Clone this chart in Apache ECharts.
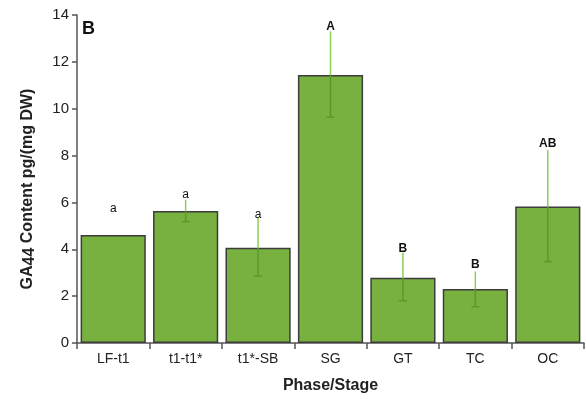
<!DOCTYPE html>
<html><head><meta charset="utf-8">
<script src="https://cdn.jsdelivr.net/npm/echarts@6.0.0/dist/echarts.min.js"></script>
<style>html,body{margin:0;padding:0;background:#fff}#c{width:586px;height:399px}</style>
</head><body><div id="c"></div>
<script>
var categories = ['LF-t1', 't1-t1*', 't1*-SB', 'SG', 'GT', 'TC', 'OC'];
var values = [4.61, 5.63, 4.07, 11.44, 2.79, 2.30, 5.83];
var errHigh = [null, 6.12, 5.38, 13.30, 3.86, 3.05, 8.24];
var errLow = [null, 5.18, 2.86, 9.64, 1.80, 1.55, 3.47];
var letters = ['a', 'a', 'a', 'A', 'B', 'B', 'AB'];
var letterPos = [5.72, 6.32, 5.46, 13.49, 4.01, 3.33, 8.49];
var yTicks = [0, 2, 4, 6, 8, 10, 12, 14];

var FONT = 'Liberation Sans';
var chart = echarts.init(document.getElementById('c'));
var errData = categories.map(function (c, i) { return [i, values[i], errHigh[i], errLow[i]]; });
var letterData = categories.map(function (c, i) { return [i, letterPos[i], letters[i]]; });

chart.setOption({
  animation: false,
  grid: { left: 77, right: 2, top: 15, bottom: 56, containLabel: false },
  xAxis: {
    type: 'category', data: categories,
    name: 'Phase/Stage', nameLocation: 'middle', nameGap: 35,
    nameTextStyle: { fontFamily: FONT, fontSize: 16, fontWeight: 'bold', color: '#222' },
    axisLine: { lineStyle: { color: '#555', width: 1.5 } },
    axisTick: { show: true, alignWithLabel: false, length: 6, lineStyle: { color: '#555', width: 1.5 } },
    axisLabel: { fontFamily: FONT, fontSize: 14, color: '#222', margin: 9 }
  },
  yAxis: {
    type: 'value', min: 0, max: 14, interval: 2,
    axisLine: { show: true, lineStyle: { color: '#555', width: 1.5 } },
    axisTick: { show: true, length: 5, lineStyle: { color: '#555', width: 1.5 } },
    axisLabel: { fontFamily: FONT, fontSize: 15, color: '#222', margin: 8,
      formatter: function (v) { return yTicks.indexOf(v) >= 0 ? String(v) : ''; } },
    splitLine: { show: false }
  },
  graphic: [
    { type: 'text', left: 82, top: 20, style: { text: 'B', font: 'bold 18px ' + FONT, fill: '#111' } },
    { type: 'text', x: 28, y: 189, rotation: Math.PI / 2,
      style: { text: '{a|GA}{b|44}{a| Content pg/(mg DW)}', align: 'center', verticalAlign: 'middle',
        rich: {
          a: { fontFamily: FONT, fontSize: 16, fontWeight: 'bold', fill: '#222', color: '#222' },
          b: { fontFamily: FONT, fontSize: 16, fontWeight: 'bold', fill: '#222', color: '#222', padding: [4, 0, 0, 0] }
        } } }
  ],
  series: [
    {
      type: 'bar', data: values, barCategoryGap: '10%',
      itemStyle: { color: '#78b13f', borderColor: '#3d3d3d', borderWidth: 1.5 },
      z: 2
    },
    {
      type: 'custom', data: errData, z: 3,
      renderItem: function (params, api) {
        if (api.value(2) == null || isNaN(api.value(2))) return { type: 'group', children: [] };
        var x = api.coord([api.value(0), 0])[0];
        var pV = api.coord([api.value(0), api.value(1)])[1];
        var pH = api.coord([api.value(0), api.value(2)])[1];
        var pL = api.coord([api.value(0), api.value(3)])[1];
        return { type: 'group', children: [
          { type: 'line', shape: { x1: x, y1: pH, x2: x, y2: pV }, style: { stroke: '#8ccf55', lineWidth: 1.5 } },
          { type: 'line', shape: { x1: x, y1: pV, x2: x, y2: pL }, style: { stroke: '#5a9a2a', lineWidth: 1.5 } },
          { type: 'line', shape: { x1: x - 4, y1: pL, x2: x + 4, y2: pL }, style: { stroke: '#5a9a2a', lineWidth: 1.5 } }
        ] };
      }
    },
    {
      type: 'custom', data: letterData, z: 4,
      renderItem: function (params, api) {
        var p = api.coord([api.value(0), api.value(1)]);
        var t = letters[params.dataIndex];
        return { type: 'text', x: p[0], y: p[1], style: {
          text: t, align: 'center', verticalAlign: 'middle',
          font: (t === 'a' ? 'normal 12px ' : 'bold 12px ') + FONT, fill: '#111' } };
      }
    }
  ]
});
</script></body></html>
